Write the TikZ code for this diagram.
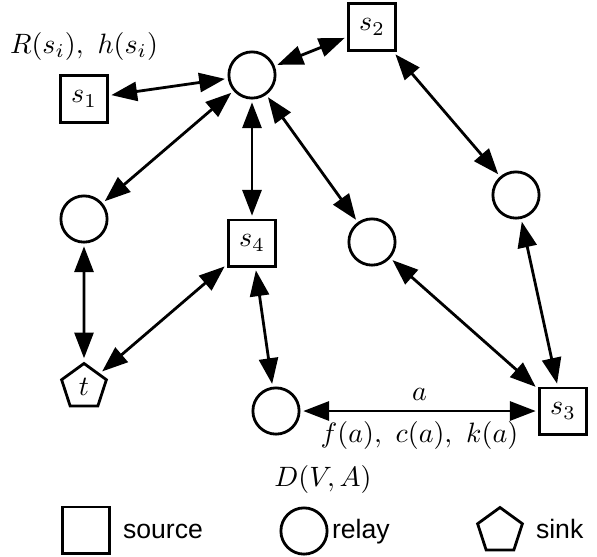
\documentclass[tikz,border=0pt]{standalone}
\usepackage{fontspec}
\setsansfont{Liberation Sans}
\usetikzlibrary{arrows.meta,shapes.geometric}
\begin{document}
\begin{tikzpicture}[x=0.357pt,y=-0.357pt,
  every node/.style={outer sep=1.5pt},
  src/.style={draw,line width=1pt,minimum size=16.5pt,inner sep=0pt},
  rly/.style={draw,circle,line width=1pt,minimum size=16.5pt,inner sep=0pt},
  snk/.style={draw,regular polygon,regular polygon sides=5,line width=1pt,minimum size=16.8pt,inner sep=0pt},
  link/.style={{Triangle[length=9.2pt,width=6.8pt]}-{Triangle[length=9.2pt,width=6.8pt]},line width=1pt},
  leg/.style={font=\sffamily\fontsize{9.5}{11}\selectfont,anchor=base west,inner sep=0pt,outer sep=0pt}]
\useasboundingbox (0,0) rectangle (597,556);
% graph nodes
\node[src] (s1) at (84,99) {$s_1$};
\node[rly] (c0) at (252,75) {};
\node[src] (s2) at (372,27) {$s_2$};
\node[rly] (cL) at (84,219) {};
\node[src] (s4) at (252,243) {$s_4$};
\node[rly] (cM) at (372,242) {};
\node[rly] (cR) at (516,195) {};
\node[snk] (t) at (84,387) {$t$};
\node[rly] (cB) at (276,411) {};
\node[src] (s3) at (563,411) {$s_3$};
% labels
\node[inner sep=0pt] (lR) at (84,46) {$R(s_i),\ h(s_i)$};
\node[inner sep=0pt] (lD) at (323,479) {$D(V,A)$};
% connectors
\draw[link] (s1) -- (c0);
\draw[link] (c0) -- (s2);
\draw[link] (c0) -- (cL);
\draw[link] (c0) -- (s4);
\draw[link] (c0) -- (cM);
\draw[link] (s2) -- (cR);
\draw[link] (cL) -- (t);
\draw[link] (s4) -- (t);
\draw[link] (s4) -- (cB);
\draw[link] (cM) -- (s3);
\draw[link] (cR) -- (s3);
\draw[link] (cB) -- node[midway,above=3.9pt,inner sep=0pt,outer sep=0pt] (la) {$a$}
  node[midway,below=3.9pt,inner sep=0pt,outer sep=0pt] (lf) {$f(a),\ c(a),\ k(a)$} (s3);
% legend
\node[src] (ls) at (86,530) {};
\node[leg] (lst) at (123,538.5) {source};
\node[rly] (lr) at (304,531) {};
\node[leg] (lrt) at (332,538.5) {relay};
\node[snk] (lk) at (500,531) {};
\node[leg] (lkt) at (536,538.5) {sink};
\end{tikzpicture}
\end{document}
